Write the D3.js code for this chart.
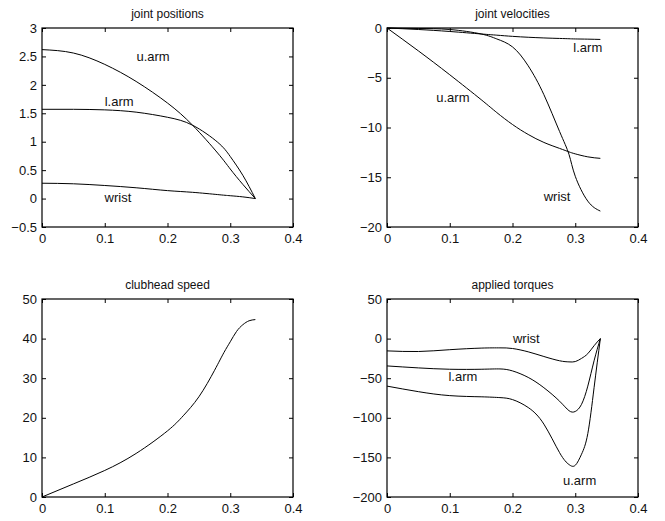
<!DOCTYPE html>
<html>
<head>
<meta charset="utf-8">
<script src="https://cdn.jsdelivr.net/npm/d3@7"></script>
<style>
  body { margin: 0; background: #fff; }
  svg { display: block; font-family: "Liberation Sans", Arial, Helvetica, sans-serif; }
  .tick text { fill: #111; }
</style>
</head>
<body>
<svg id="chart" width="665" height="521"></svg>
<script>
// ---- data ----
const posTime = [0, 0.05, 0.1, 0.15, 0.2, 0.24, 0.28, 0.3, 0.32, 0.34];
const posUarm = [2.62, 2.56, 2.36, 2.06, 1.68, 1.29, 0.8, 0.52, 0.25, 0];
const posLarm = [1.57, 1.57, 1.56, 1.52, 1.43, 1.29, 0.99, 0.74, 0.41, 0];
const posWrist = [0.27, 0.26, 0.23, 0.19, 0.14, 0.11, 0.07, 0.05, 0.03, 0];

const velTime = [0, 0.05, 0.1, 0.15, 0.175, 0.2, 0.225, 0.25, 0.275, 0.29, 0.3, 0.32, 0.34];
const velLarm = [0, -0.15, -0.35, -0.6, -0.72, -0.84, -0.93, -1.0, -1.05, -1.08, -1.1, -1.12, -1.15];
const velWrist = [0, -0.05, -0.15, -0.6, -1.1, -1.9, -3.8, -6.7, -10.4, -12.7, -14.9, -17.4, -18.4];
const velUarm = [0, -2.3, -4.7, -7.2, -8.5, -9.7, -10.7, -11.5, -12.1, -12.45, -12.65, -12.95, -13.1];

const speedTime = [0, 0.05, 0.1, 0.15, 0.2, 0.225, 0.25, 0.275, 0.29, 0.3, 0.31, 0.32, 0.33, 0.34];
const speed = [0, 3.3, 6.7, 11, 16.7, 20.5, 25.3, 32, 36.5, 39.2, 41.8, 43.5, 44.5, 44.8];

const torqTime = [0, 0.05, 0.1, 0.15, 0.18, 0.2, 0.225, 0.25, 0.275, 0.29, 0.3, 0.31, 0.32, 0.33, 0.34];
const torqWrist = [-15.5, -16.3, -14, -12, -11.7, -12.5, -16.7, -22.6, -28, -29.4, -29, -25, -19, -9, 0];
const torqLarm = [-34.5, -37, -38.7, -38.7, -38.3, -40.8, -49, -62, -79, -91, -92, -83, -60, -28, 0];
const torqUarm = [-60, -67, -72, -73.5, -74.5, -77, -87, -108, -144, -159, -160, -146, -120, -62, 0];

const xTicks = [0, 0.1, 0.2, 0.3, 0.4];

const panels = [
  { title: "joint positions", box: [42, 28, 293, 227], yDomain: [-0.5, 3],
    yTicks: [-0.5, 0, 0.5, 1, 1.5, 2, 2.5, 3], time: posTime,
    series: [posUarm, posLarm, posWrist],
    labels: [["u.arm", 0.177, 2.42], ["l.arm", 0.123, 1.63], ["wrist", 0.121, -0.06]] },
  { title: "joint velocities", box: [387, 28, 638, 227], yDomain: [-20, 0],
    yTicks: [-20, -15, -10, -5, 0], time: velTime,
    series: [velLarm, velWrist, velUarm],
    labels: [["l.arm", 0.32, -2.41], ["u.arm", 0.105, -7.44], ["wrist", 0.271, -17.4]] },
  { title: "clubhead speed", box: [42, 299, 293, 497], yDomain: [0, 50],
    yTicks: [0, 10, 20, 30, 40, 50], time: speedTime,
    series: [speed], labels: [] },
  { title: "applied torques", box: [387, 299, 638, 497], yDomain: [-200, 50],
    yTicks: [-200, -150, -100, -50, 0, 50], time: torqTime,
    series: [torqWrist, torqLarm, torqUarm],
    labels: [["wrist", 0.222, -5.7], ["l.arm", 0.121, -53.8], ["u.arm", 0.307, -185]] }
];

const svg = d3.select("#chart");
const fmt = d => (d < 0 ? "\u2212" + Math.abs(d) : String(d));

panels.forEach(p => {
  const [x0, y0, x1, y1] = p.box;
  const x = d3.scaleLinear().domain([0, 0.4]).range([x0, x1]);
  const y = d3.scaleLinear().domain(p.yDomain).range([y1, y0]);
  const g = svg.append("g");

  // inward ticks on all four sides
  g.append("g").attr("transform", `translate(0,${y1})`)
    .call(d3.axisBottom(x).tickValues(xTicks).tickFormat(fmt).tickSizeInner(-4).tickSizeOuter(0).tickPadding(7));
  g.append("g").attr("transform", `translate(0,${y0})`)
    .call(d3.axisTop(x).tickValues(xTicks).tickFormat("").tickSizeInner(-4).tickSizeOuter(0));
  g.append("g").attr("transform", `translate(${x0},0)`)
    .call(d3.axisLeft(y).tickValues(p.yTicks).tickFormat(fmt).tickSizeInner(-4).tickSizeOuter(0).tickPadding(5));
  g.append("g").attr("transform", `translate(${x1},0)`)
    .call(d3.axisRight(y).tickValues(p.yTicks).tickFormat("").tickSizeInner(-4).tickSizeOuter(0));
  g.selectAll(".domain").remove();
  g.selectAll(".tick text").attr("font-size", 13).attr("font-family", null);

  g.append("rect")
    .attr("x", x0).attr("y", y0).attr("width", x1 - x0).attr("height", y1 - y0)
    .attr("fill", "none").attr("stroke", "#000").attr("stroke-width", 1.2);

  const line = d3.line()
    .x((d, i) => x(p.time[i]))
    .y(d => y(d))
    .curve(d3.curveNatural);

  g.selectAll("path.curve").data(p.series).enter()
    .append("path").attr("class", "curve")
    .attr("d", line)
    .attr("fill", "none").attr("stroke", "#000").attr("stroke-width", 1);

  g.selectAll("text.lbl").data(p.labels).enter()
    .append("text").attr("class", "lbl")
    .attr("x", d => x(d[1])).attr("y", d => y(d[2]))
    .attr("text-anchor", "middle").attr("font-size", 13).attr("fill", "#111")
    .text(d => d[0]);

  g.append("text")
    .attr("x", (x0 + x1) / 2).attr("y", y0 - 10)
    .attr("text-anchor", "middle").attr("font-size", 12).attr("fill", "#111")
    .text(p.title);
});
</script>
</body>
</html>
